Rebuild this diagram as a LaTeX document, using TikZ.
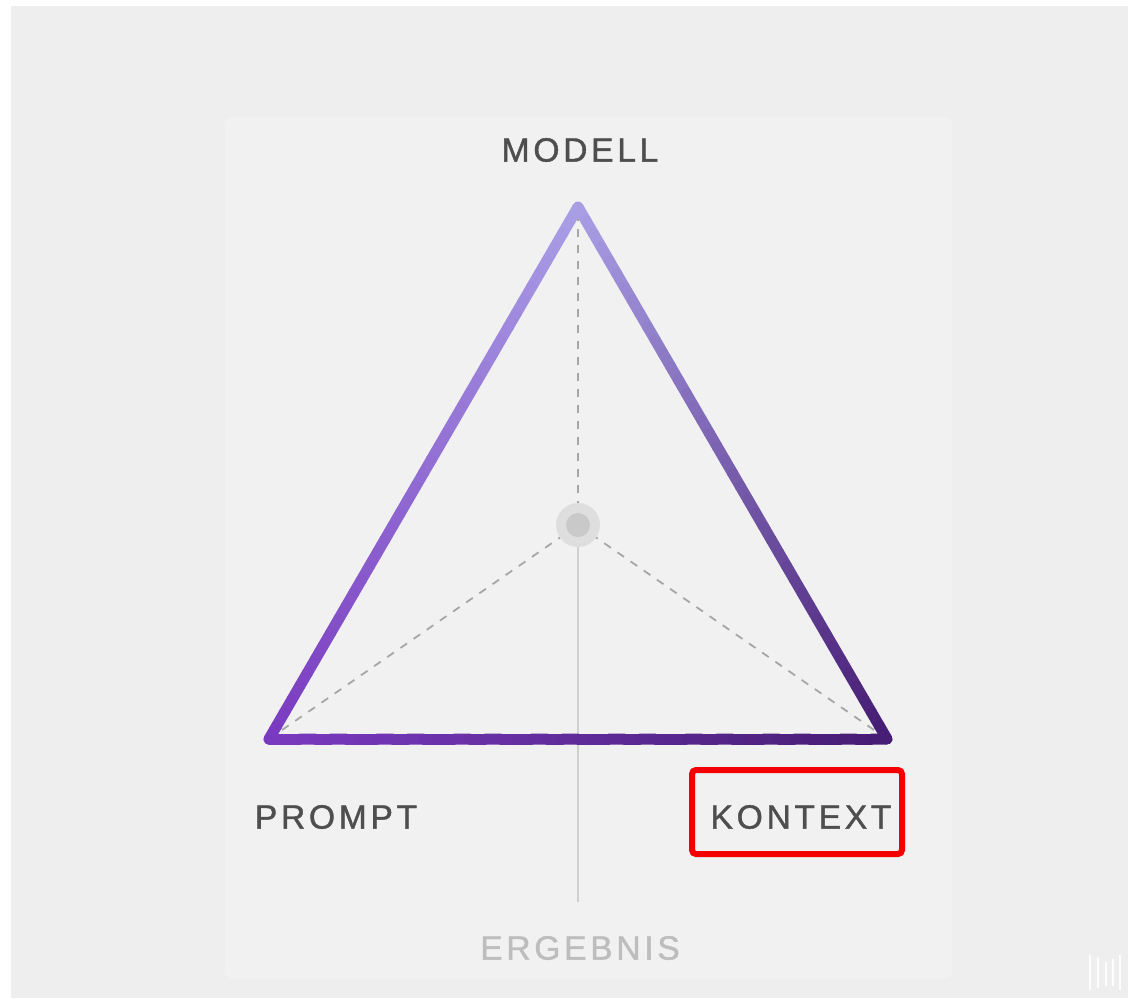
\documentclass[tikz,border=0pt]{standalone}
\usepackage{fontspec}
\usepackage{tikz}
\usetikzlibrary{calc,positioning}
\newfontfamily\triLabelFont[LetterSpace=11,FakeBold=1.2]{Liberation Sans}
\definecolor{triTop}{RGB}{170,160,230}
\definecolor{triLeft}{RGB}{122,58,192}
\definecolor{triRight}{RGB}{70,28,116}
\definecolor{triInk}{HTML}{4E4E4E}
\definecolor{triFaint}{HTML}{BDBDBD}
\definecolor{triDash}{HTML}{A6A6A6}
\definecolor{triStem}{HTML}{D0D0D0}
\definecolor{triBg}{HTML}{EEEEEE}
\definecolor{triPanel}{HTML}{F1F1F1}
\definecolor{triMark}{HTML}{F50000}
\newcommand{\gradEdge}[4]{%
  \foreach \k in {0,...,39}{%
    \pgfmathsetmacro\ta{\k/40}%
    \pgfmathsetmacro\tb{(\k+1)/40}%
    \pgfmathsetmacro\pc{100*(\k+0.5)/40}%
    \colorlet{edgeSeg}{#4!\pc!#3}%
    \draw[triEdge,edgeSeg] ($(#1)!\ta!(#2)$) -- ($(#1)!\tb!(#2)$);
  }}

\begin{document}
\begin{tikzpicture}[x=0.5pt,y=-0.5pt,
    triEdge/.style={line width=5.5pt,line cap=round},
    triDashLine/.style={draw=triDash,line width=0.9pt,dash pattern=on 4pt off 4pt},
    triLabel/.style={font=\triLabelFont\fontsize{16.8}{20}\selectfont,text=triInk,inner sep=0pt}]
  \useasboundingbox (0,0) rectangle (1128,998);
  \fill[white] (0,0) rectangle (1128,998);
  \fill[triBg] (11,6) rectangle (1128,998);
  \fill[triPanel,rounded corners=3pt] (225,117) rectangle (952,978);

  \coordinate (apex) at (578,207);
  \coordinate (promptc) at (269,739);
  \coordinate (kontextc) at (887,739);
  \coordinate (hubc) at (578,525);
  \coordinate (stemEnd) at (578,902);

  \draw[triStem,line width=0.8pt] (hubc) -- (stemEnd);
  \draw[triDashLine] (hubc) -- (apex);
  \draw[triDashLine] (hubc) -- (promptc);
  \draw[triDashLine] (hubc) -- (kontextc);

  \gradEdge{apex}{promptc}{triTop}{triLeft}
  \gradEdge{promptc}{kontextc}{triLeft}{triRight}
  \gradEdge{apex}{kontextc}{triTop}{triRight}

  \node[circle,fill=black!13,minimum size=22pt,inner sep=0pt] (hub) at (hubc) {};
  \node[circle,fill=black!21,minimum size=12pt,inner sep=0pt] (hubcore) at (hubc) {};

  \node[triLabel] (modell) at (580,150) {MODELL};
  \node[triLabel] (prompt) at (336,817) {PROMPT};
  \node[triLabel] (kontext) at (801,817) {KONTEXT};
  \node[triLabel,text=triFaint] (ergebnis) at (580,948) {ERGEBNIS};

  \node[draw=triMark,line width=3pt,rounded corners=2pt,minimum width=105pt,
        minimum height=42pt,inner sep=0pt] (markbox) at (797,812) {};

  \foreach \x/\ya/\yb in {1090/955/990,1098/957/988,1106/962/986,1113/959/986,1120/955/990}
    \draw[white,line width=1.2pt,opacity=.9] (\x,\ya) -- (\x,\yb);
\end{tikzpicture}
\end{document}
